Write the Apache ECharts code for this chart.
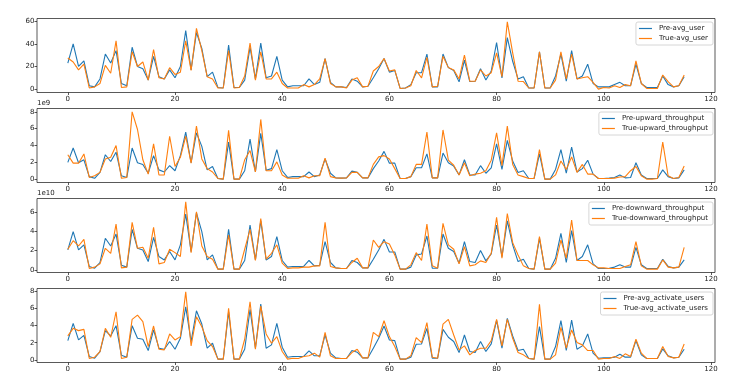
<!DOCTYPE html>
<html><head><meta charset="utf-8">
<script src="https://cdn.jsdelivr.net/npm/echarts@6/dist/echarts.min.js"></script>
<style>html,body{margin:0;padding:0;background:#fff}#c{width:750px;height:391px}</style>
</head><body><div id="c"></div>
<script>
// x index 0..115
const xIndex = Array.from({length:116},(_,i)=>i);
const xTicks = [0,20,40,60,80,100,120];

const preAvgUser = [23,40,20,25,3,2,9,31,23,34,5,3,37,20,18,8,29,11,9,17,10,20,51.6,17,50,36,11,15,1.5,1,39,1.5,1.5,8,37,9,40.6,10,11.6,29,8,2,3,3,3,9,4,6,27,6,2,2,1.5,9,7,2,2.6,10,18,27,15,16.5,0.6,1,4,14.5,14.5,31,2,2,31,19,16.5,6.4,25.5,6.7,7,18,8,16,41,10,45.5,24.6,9,11,1,1,33,1,1,11.6,31,7,34,9,11.6,22,5,2,2,2,4,6,3,3,22,5,1.5,1.5,1.5,11.6,4,2,3,11];
const trueAvgUser = [27.5,24,17,22,1,2,5,21,14,42.6,1.5,2,33,20,24,8,35,10,9,19,13,15,42.6,16.5,53.6,34,11,9,1,1,34,1,1.5,11.6,40.6,8,33,9,9,15,5,1,1,1,4,2,4,9,27,5,2,2,1,8,10,2,2.6,16,20,27,16,17,0.6,1,3,16.5,10,28,2,2.6,29,19,17,9,30,7,7,17,11.6,14.5,32,11,59.4,32,7,6.7,1,1,33,1,1,8,33,9,31,9,10,11,6,0,1.5,1,3,1.5,4,3,25,5,0.6,0.6,0.6,12.5,6.7,2,3,12.5];

const preUp = [2.0,3.7,1.95,2.3,0.3,0.1,0.8,2.9,2.1,3.2,0.4,0.2,3.7,1.95,1.75,0.7,2.8,1.1,0.85,1.6,1.0,2.8,5.6,1.95,5.5,3.9,1.1,1.5,0.08,0,4.4,0,0,1.0,4.75,0.85,5.45,1.05,1.25,3.5,1.0,0.2,0.3,0.3,0.3,0.85,0.3,0.5,2.4,0.7,0.15,0.12,0.15,0.95,0.8,0.15,0.15,1.25,2.15,3.3,1.9,1.9,0.08,0.08,0.3,1.35,1.35,3.0,0.15,0.15,3.1,1.95,1.55,0.5,2.3,0.5,0.5,1.6,0.7,1.35,4.2,1.15,4.6,2.15,0.8,1.0,0.08,0.08,3.0,0,0,1.15,3.5,0.7,3.8,0.85,1.25,2.25,0.6,0.08,0.08,0.12,0.2,0.5,0.15,0.2,1.95,0.5,0.08,0.08,0.08,1.1,0.3,0.08,0.15,1.1];
const trueUp = [2.9,1.9,1.9,3.0,0.2,0.4,0.8,2.4,2.6,4.0,0.1,0.2,8.0,5.9,2.3,0.6,4.2,0.5,0.5,5.1,1.5,2.6,5.1,1.9,6.3,2.4,1.25,0.85,0.08,0,5.8,0,0,2.3,3.4,0.85,7.1,1.0,1.0,2.05,0.5,0.1,0.1,0.1,0.4,0.15,0.4,0.4,2.5,0.3,0.15,0.12,0.15,0.8,0.8,0.15,0.15,1.75,2.65,2.8,2.4,1.25,0.08,0.08,0.3,1.75,1.75,5.6,0.15,0.15,5.85,2.25,1.65,0.5,1.95,0.4,0.6,0.7,1.0,2.25,5.5,1.6,6.3,1.75,0.5,0.3,0.08,0.08,3.5,0,0,0.5,2.15,1.15,2.65,0.8,1.75,0.6,0.6,0.08,0.08,0.08,0.12,0.25,0.3,1.0,1.5,0.4,0,0,0.08,4.4,0.4,0.08,0.2,1.55];

const preDown = [2.07,3.97,2.07,2.6,0.35,0.17,0.76,3.28,2.48,3.72,0.48,0.28,4.2,2.24,2.07,0.86,3.38,1.38,1.03,1.9,1.03,2.6,5.8,1.9,5.93,3.97,1.03,1.55,0.07,0.07,4.2,0.07,0.07,0.97,4.66,1.03,5.1,1.03,1.38,3.45,0.97,0.28,0.35,0.35,0.35,0.97,0.41,0.48,2.93,0.76,0.2,0.14,0.14,0.97,0.76,0.2,0.2,1.1,2.07,3.17,1.86,1.86,0.07,0.07,0.28,1.55,1.65,3.52,0.17,0.17,3.72,2.24,1.9,0.69,2.93,0.86,0.76,2.0,0.93,1.65,4.66,1.38,5.1,2.6,0.86,1.1,0.14,0.07,3.28,0.07,0.07,1.2,3.79,0.76,4.07,0.97,1.38,2.6,0.62,0.14,0.14,0.17,0.28,0.52,0.28,0.28,2.34,0.52,0.14,0.14,0.14,1.1,0.35,0.2,0.28,1.03];
const trueDown = [2.14,3.03,2.48,3.17,0.14,0.28,0.62,2.24,1.72,4.76,0.2,0.28,4.93,2.24,2.34,1.2,4.41,0.62,0.76,2.14,1.79,1.38,7.07,1.79,6.03,2.48,1.38,1.1,0.07,0.07,3.62,0.07,0.07,2.14,4.2,0.97,5.34,1.1,1.72,2.6,0.69,0.14,0.2,0.2,0.28,0.28,0.41,0.41,4.93,0.35,0.2,0.14,0.14,0.76,1.2,0.2,0.2,3.1,2.34,2.93,2.69,1.55,0.07,0.07,0.52,1.79,0.97,4.76,0.41,0.17,4.83,2.6,2.14,0.62,2.41,0.41,0.52,0.93,0.76,1.72,5.45,1.2,5.86,2.83,1.55,0.41,0.14,0.07,3.45,0.07,0.07,0.69,3.1,1.2,5.17,0.97,0.97,0.97,0.52,0.2,0.2,0.14,0.14,0.14,0.35,0.52,2.93,0.41,0.07,0.07,0.07,1.03,0.28,0.2,0.28,2.34];

const preAct = [2.25,4.27,2.33,2.87,0.39,0.19,0.97,3.42,2.8,4.0,0.54,0.31,4.0,2.52,2.41,1.09,3.5,1.36,1.24,2.14,1.24,2.52,6.21,2.14,5.75,4.19,1.36,1.94,0.08,0.08,5.63,0.08,0.08,1.24,5.9,1.36,6.52,1.36,1.75,4.27,1.48,0.31,0.39,0.39,0.39,1.05,0.47,0.47,2.91,0.78,0.23,0.16,0.16,1.09,0.89,0.23,0.23,1.36,2.52,3.96,2.33,2.25,0.08,0.08,0.31,1.83,1.86,3.69,0.19,0.19,3.57,2.64,2.14,0.85,2.91,0.97,0.85,2.14,0.97,1.86,4.62,1.36,4.85,2.8,1.09,1.24,0.16,0.08,3.88,0.08,0.08,1.55,4.58,1.09,4.66,1.24,1.63,3.03,0.78,0.19,0.23,0.23,0.31,0.66,0.31,0.31,2.25,0.58,0.16,0.16,0.16,1.28,0.47,0.23,0.31,1.24];
const trueAct = [2.8,3.69,3.42,3.57,0.16,0.31,0.97,3.69,2.64,5.63,0.16,0.31,4.74,5.24,4.47,1.55,3.96,1.24,1.17,3.03,2.33,2.72,7.96,1.63,5.05,3.88,2.25,1.55,0.08,0.08,6.02,0.08,0.08,2.41,6.8,1.24,6.29,3.03,1.94,2.72,0.97,0.08,0.19,0.16,0.39,0.47,0.78,0.31,3.22,0.47,0.16,0.16,0.16,0.85,1.24,0.23,0.23,3.22,2.72,4.58,2.72,1.55,0.08,0.08,0.47,2.6,2.02,4.35,0.31,0.19,4.19,4.74,2.91,1.17,1.63,0.58,1.09,1.36,1.36,2.25,4.74,1.63,4.74,2.52,0.85,0.58,0.16,0.08,6.49,0.08,0.08,0.58,3.81,1.36,3.5,2.02,1.75,1.09,1.09,0.08,0.16,0.16,0.39,0.16,0.7,0.39,2.41,0.78,0.16,0.16,0.16,1.55,0.39,0.23,0.31,1.86];

const panels = [
  {pre: preAvgUser, tru: trueAvgUser, preName:'Pre-avg_user', truName:'True-avg_user', yTicks:[0,20,40,60], offset:''},
  {pre: preUp, tru: trueUp, preName:'Pre-upward_throughput', truName:'True-upward_throughput', yTicks:[0,2,4,6,8], offset:'1e9'},
  {pre: preDown, tru: trueDown, preName:'Pre-downward_throughput', truName:'True-downward_throughput', yTicks:[0,2,4,6], offset:'1e10'},
  {pre: preAct, tru: trueAct, preName:'Pre-avg_activate_users', truName:'True-avg_activate_users', yTicks:[0,2,4,6,8], offset:''}
];

const FONT = 'DejaVu Sans';
const tops = [18.5, 108.5, 198.5, 288.5];
const H = 74;
const grids = [], xAxes = [], yAxes = [], series = [], legends = [], graphics = [];

panels.forEach((p, k) => {
  grids.push({left: 37, right: 35, top: tops[k], height: H, show: true, borderColor: '#111', borderWidth: 0.7, backgroundColor: 'transparent'});
  xAxes.push({type:'value', gridIndex:k, min:-5.75, max:120.75, position:'bottom',
    axisLine:{show:false, onZero:false}, splitLine:{show:false},
    axisTick:{show:true, inside:false, length:2.5, lineStyle:{color:'#111', width:0.7}, customValues:xTicks},
    axisLabel:{show:true, margin:3, fontSize:7, color:'#222', fontFamily:FONT, customValues:xTicks}});
  const all = p.pre.concat(p.tru);
  const mx = Math.max(...all), mn = Math.min(...all), pad = 0.05*(mx-mn);
  yAxes.push({type:'value', gridIndex:k, min: mn-pad, max: mx+pad, position:'left',
    axisLine:{show:false, onZero:false}, splitLine:{show:false},
    axisTick:{show:true, inside:false, length:2.5, lineStyle:{color:'#111', width:0.7}, customValues:p.yTicks},
    axisLabel:{show:true, margin:2.5, fontSize:7, color:'#222', fontFamily:FONT, customValues:p.yTicks}});
  series.push({type:'line', name:p.preName, xAxisIndex:k, yAxisIndex:k, data: xIndex.map(i=>[i,p.pre[i]]),
    symbol:'none', lineStyle:{width:1.1, color:'#1f77b4'}, itemStyle:{color:'#1f77b4'}, z:2, animation:false});
  series.push({type:'line', name:p.truName, xAxisIndex:k, yAxisIndex:k, data: xIndex.map(i=>[i,p.tru[i]]),
    symbol:'none', lineStyle:{width:1.1, color:'#ff7f0e'}, itemStyle:{color:'#ff7f0e'}, z:3, animation:false});
  legends.push({data:[p.preName, p.truName], orient:'vertical', right:37, top: tops[k]+3.5,
    icon:'rect', itemWidth:13, itemHeight:1.2, itemGap:3, padding:[3,5,3,3], borderColor:'#ccc', borderWidth:0.8, borderRadius:2,
    backgroundColor:'rgba(255,255,255,0.8)', textStyle:{fontSize:7, lineHeight:7, color:'#222', fontFamily:FONT, padding:[0,0,0,2]}, selectedMode:false});
  if (p.offset) graphics.push({type:'text', left:37, top: tops[k]-9, style:{text:p.offset, fontSize:7, fill:'#222', fontFamily:FONT}});
});

const chart = echarts.init(document.getElementById('c'), null, {renderer:'canvas'});
chart.setOption({animation:false, backgroundColor:'#fff', grid:grids, xAxis:xAxes, yAxis:yAxes, series:series, legend:legends, graphic:graphics});
</script>
</body></html>
